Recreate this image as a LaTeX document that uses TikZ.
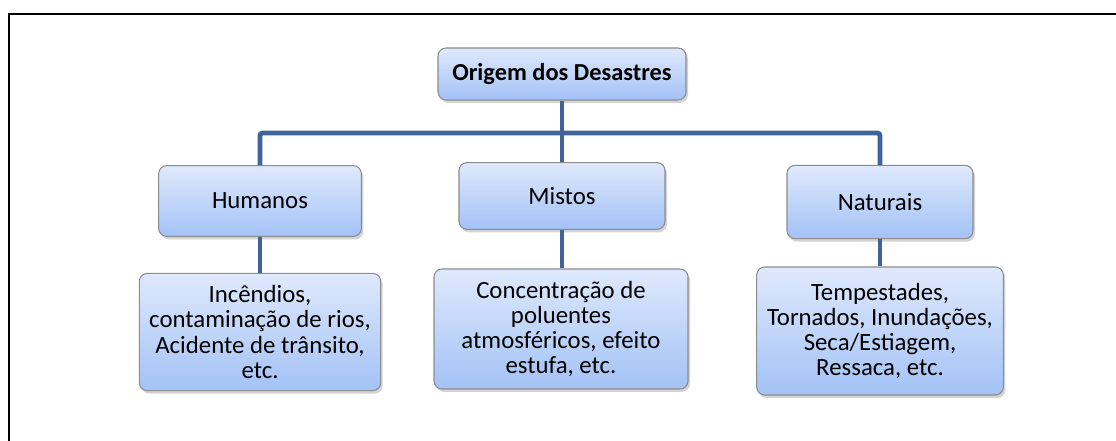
\documentclass[tikz,border=0pt]{standalone}
\usepackage{fontspec}
\setmainfont{Carlito}
\usetikzlibrary{shadows}

\definecolor{caixaTopo}{RGB}{223,233,252}
\definecolor{caixaBase}{RGB}{163,194,246}
\definecolor{ligacao}{RGB}{62,100,152}
\definecolor{bordaCaixa}{RGB}{140,140,140}

\tikzset{
  caixa/.style={draw=bordaCaixa, line width=0.8pt, rounded corners=6pt,
    top color=caixaTopo, bottom color=caixaBase, align=center,
    font=\fontsize{18.6}{18.8}\selectfont, inner sep=2pt,
    drop shadow={opacity=0.35, shadow xshift=1.5pt, shadow yshift=-2.2pt}},
  ligar/.style={ligacao, line width=3.6pt},
  moldura/.style={black, line width=1.4pt}
}

\begin{document}
\begin{tikzpicture}[x=0.75pt,y=-0.75pt]
     \useasboundingbox (0,0) rectangle (1116,441);
     \draw[moldura] (9,441) -- (9,14) -- (1116,14);

     \node[caixa, minimum width=186pt, minimum height=39pt, font=\fontsize{18.3}{18.8}\selectfont\bfseries]
       (origem) at (562,74) {Origem dos Desastres};

     \node[caixa, minimum width=152pt, minimum height=53pt] (humanos) at (260,201) {Humanos};
     \node[caixa, minimum width=154.5pt, minimum height=50pt] (mistos) at (562,196) {Mistos};
     \node[caixa, minimum width=139.5pt, minimum height=55pt] (naturais) at (880,202) {Naturais};

     \node[caixa, minimum width=181pt, minimum height=88pt] (humanosEx) at (260,332)
       {Incêndios,\\contaminação de rios,\\Acidente de trânsito,\\etc.};
     \node[caixa, minimum width=190.5pt, minimum height=90pt] (mistosEx) at (561,329)
       {Concentração de\\poluentes\\atmosféricos, efeito\\estufa, etc.};
     \node[caixa, minimum width=185pt, minimum height=96pt] (naturaisEx) at (880,331)
       {Tempestades,\\Tornados, Inundações,\\Seca/Estiagem,\\Ressaca, etc.};

     \coordinate (barra) at (562,133);
     \draw[ligar] (origem.south) -- (mistos.north);
     \draw[ligar, rounded corners=2pt] (humanos.north) |- (barra) -| (naturais.north);

     \draw[ligar] (humanos.south) -- (humanosEx.north);
     \draw[ligar] (mistos.south) -- (mistos.south |- mistosEx.north);
     \draw[ligar] (naturais.south) -- (naturaisEx.north);
\end{tikzpicture}
\end{document}
